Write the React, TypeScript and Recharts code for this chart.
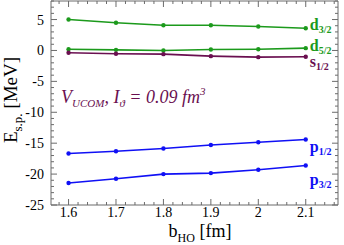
import React from "react";
import { LineChart, Line, XAxis, YAxis, LabelList, Customized } from "recharts";

// oscillator length b_HO [fm]
const bHO = [1.6, 1.7, 1.8, 1.9, 2.0, 2.1];

// single-particle energies [MeV]
const d32 = [5.0, 4.47, 4.08, 4.08, 3.87, 3.6];
const d52 = [0.2, 0.1, 0.0, 0.16, 0.2, 0.37];
const s12 = [-0.37, -0.53, -0.6, -0.92, -1.08, -1.02];
const p12 = [-16.67, -16.3, -15.86, -15.3, -14.84, -14.4];
const p32 = [-21.45, -20.75, -20.0, -19.84, -19.3, -18.6];

const xMajorTicks = [1.6, 1.7, 1.8, 1.9, 2.0, 2.1];
const yMajorTicks = [-25, -20, -15, -10, -5, 0, 5];

const GREEN = "#1c9a1c";
const PURPLE = "#6a0f50";
const BLUE = "#1010f5";
const AXIS = "#6b6b6b";
const SERIF = "'Liberation Serif', 'DejaVu Serif', serif";

const data = bHO.map((b, i) => ({
  b,
  d32: d32[i],
  d52: d52[i],
  s12: s12[i],
  p12: p12[i],
  p32: p32[i],
}));

// minor ticks every 0.02 on x, every 1 on y
const xTicks: number[] = [];
for (let i = 79; i <= 108; i++) xTicks.push(Math.round(i * 2) / 100);
const yTicks: number[] = [];
for (let v = -25; v <= 8; v++) yTicks.push(v);

const isMajor = (v: number, majors: number[]) => majors.some((m) => Math.abs(m - v) < 1e-6);

const series = [
  { key: "d32", color: GREEN, name: "d", sub: "3/2", dy: 2 },
  { key: "d52", color: GREEN, name: "d", sub: "5/2", dy: 3 },
  { key: "s12", color: PURPLE, name: "s", sub: "1/2", dy: 10 },
  { key: "p12", color: BLUE, name: "p", sub: "1/2", dy: 13 },
  { key: "p32", color: BLUE, name: "p", sub: "3/2", dy: 20 },
];

const BottomTick = (props: any) => {
  const { x, y, payload } = props;
  const major = isMajor(payload.value, xMajorTicks);
  return (
    <g>
      <line x1={x} x2={x} y1={y} y2={y - (major ? 6 : 3)} stroke={AXIS} />
      {major && (
        <text x={x} y={y + 12} textAnchor="middle" fontSize={14} fontFamily={SERIF} fill="#000">
          {String(Number(payload.value.toFixed(1)))}
        </text>
      )}
    </g>
  );
};

const TopTick = (props: any) => {
  const { x, y, payload } = props;
  const major = isMajor(payload.value, xMajorTicks);
  return <line x1={x} x2={x} y1={y} y2={y + (major ? 6 : 3)} stroke={AXIS} />;
};

const LeftTick = (props: any) => {
  const { x, y, payload } = props;
  const major = isMajor(payload.value, yMajorTicks);
  return (
    <g>
      <line x1={x} x2={x + (major ? 6 : 3)} y1={y} y2={y} stroke={AXIS} />
      {major && (
        <text x={x - 7} y={y + 5} textAnchor="end" fontSize={14} fontFamily={SERIF} fill="#000">
          {payload.value}
        </text>
      )}
    </g>
  );
};

const RightTick = (props: any) => {
  const { x, y, payload } = props;
  const major = isMajor(payload.value, yMajorTicks);
  return <line x1={x} x2={x - (major ? 6 : 3)} y1={y} y2={y} stroke={AXIS} />;
};

const makeEndLabel = (color: string, name: string, sub: string, dy: number) => (props: any) => {
  const { x, y, index } = props;
  if (index !== bHO.length - 1) return null;
  return (
    <text x={x + 4} y={y + dy} fill={color} fontFamily={SERIF} fontWeight="bold">
      <tspan fontSize={16}>{name}</tspan>
      <tspan fontSize={10} dy={3}>{sub}</tspan>
    </text>
  );
};

const Annotations = () => (
  <g fontFamily={SERIF}>
    <text x={61} y={103} fill={PURPLE} fontStyle="italic" fontSize={18}>
      <tspan>V</tspan>
      <tspan fontSize={11} dy={4}>UCOM</tspan>
      <tspan dy={-4}>,  I</tspan>
      <tspan fontSize={11} dy={4}>ϑ</tspan>
      <tspan dy={-4}> = 0.09 fm</tspan>
      <tspan fontSize={11} dy={-8}>3</tspan>
    </text>
    <text transform="translate(17,100) rotate(-90)" textAnchor="middle" fontSize={19} fill="#000">
      <tspan>E</tspan>
      <tspan fontSize={13} dy={5}>s.p.</tspan>
      <tspan dy={-5}> [MeV]</tspan>
    </text>
    <text x={200} y={237} textAnchor="middle" fontSize={18} fill="#000">
      <tspan>b</tspan>
      <tspan fontSize={12} dy={5}>HO</tspan>
      <tspan dy={-5}> [fm]</tspan>
    </text>
  </g>
);

export default function App() {
  return (
    <div style={{ position: "absolute", left: 0, top: 0, background: "#fff" }}>
      <LineChart width={344} height={245} data={data} margin={{ top: 0, right: 5, bottom: 39, left: 50 }}>
        <XAxis
          dataKey="b"
          type="number"
          domain={[1.563, 2.168]}
          ticks={xTicks}
          interval={0}
          height={1}
          tickSize={0}
          tickMargin={0}
          tickLine={false}
          stroke={AXIS}
          tick={<BottomTick />}
          allowDataOverflow
        />
        <XAxis
          xAxisId="top"
          orientation="top"
          dataKey="b"
          type="number"
          domain={[1.563, 2.168]}
          ticks={xTicks}
          interval={0}
          height={1}
          tickSize={0}
          tickMargin={0}
          tickLine={false}
          stroke={AXIS}
          tick={<TopTick />}
          allowDataOverflow
        />
        <YAxis
          type="number"
          domain={[-25, 8]}
          ticks={yTicks}
          interval={0}
          width={1}
          tickSize={0}
          tickMargin={0}
          tickLine={false}
          stroke={AXIS}
          tick={<LeftTick />}
          allowDataOverflow
        />
        <YAxis
          yAxisId="right"
          orientation="right"
          type="number"
          domain={[-25, 8]}
          ticks={yTicks}
          interval={0}
          width={1}
          tickSize={0}
          tickMargin={0}
          tickLine={false}
          stroke={AXIS}
          tick={<RightTick />}
          allowDataOverflow
        />
        {series.map((s) => (
          <Line
            key={s.key}
            dataKey={s.key}
            stroke={s.color}
            strokeWidth={1.6}
            dot={{ r: 2.2, fill: s.color, stroke: s.color, strokeWidth: 0 }}
            isAnimationActive={false}
          >
            <LabelList dataKey={s.key} content={makeEndLabel(s.color, s.name, s.sub, s.dy)} />
          </Line>
        ))}
        <Customized component={Annotations} />
      </LineChart>
    </div>
  );
}
